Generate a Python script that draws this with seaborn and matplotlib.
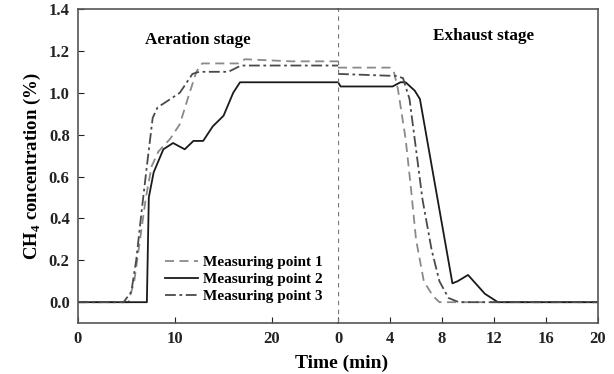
import numpy as np
import pandas as pd
import matplotlib
matplotlib.use('Agg')
import matplotlib.pyplot as plt
import seaborn as sns

# 曝气阶段 (aeration stage) 数据, 时间 min
t_aer_p1 = [0, 5.2, 5.8, 6.4, 7.0, 7.6, 8.3, 9.5, 10.5, 11.3, 12.2, 12.8, 16.5, 17.2, 22.0, 26.8]
c_aer_p1 = [0.0, 0.0, 0.10, 0.30, 0.50, 0.65, 0.72, 0.78, 0.85, 0.97, 1.10, 1.14, 1.14, 1.16, 1.15, 1.15]
t_aer_p2 = [0, 7.1, 7.3, 7.8, 8.8, 9.8, 11.0, 11.9, 12.9, 13.9, 15.0, 16.0, 16.7, 20.0, 26.8]
c_aer_p2 = [0.0, 0.0, 0.50, 0.62, 0.73, 0.76, 0.73, 0.77, 0.77, 0.84, 0.89, 1.00, 1.05, 1.05, 1.05]
t_aer_p3 = [0, 4.7, 5.5, 6.0, 6.6, 7.1, 7.7, 8.2, 9.2, 10.5, 11.8, 12.5, 15.5, 16.8, 22.0, 26.8]
c_aer_p3 = [0.0, 0.0, 0.05, 0.20, 0.45, 0.65, 0.88, 0.93, 0.96, 1.00, 1.09, 1.10, 1.10, 1.13, 1.13, 1.13]

# 排气阶段 (exhaust stage) 数据
t_exh_p1 = [0, 4.0, 4.3, 4.6, 5.2, 5.6, 6.0, 6.6, 7.3, 7.8, 20]
c_exh_p1 = [1.12, 1.12, 1.10, 1.02, 0.78, 0.55, 0.30, 0.10, 0.03, 0.0, 0.0]
t_exh_p2 = [0, 0.2, 4.2, 4.8, 5.2, 5.9, 6.3, 8.8, 9.2, 10.0, 11.3, 12.3, 20]
c_exh_p2 = [1.05, 1.03, 1.03, 1.05, 1.05, 1.01, 0.97, 0.09, 0.10, 0.13, 0.04, 0.0, 0.0]
t_exh_p3 = [0, 4.5, 5.0, 5.5, 6.0, 6.5, 7.2, 7.8, 8.5, 9.3, 20]
c_exh_p3 = [1.09, 1.08, 1.07, 0.97, 0.73, 0.49, 0.25, 0.10, 0.02, 0.0, 0.0]

labels = ['Measuring point 1', 'Measuring point 2', 'Measuring point 3']
colors = ['#8a8a8a', '#1a1a1a', '#4a4a4a']
styles = [(0, (5, 3)), '-', (0, (6, 2, 1.5, 2))]

plt.rcParams['font.family'] = ['Liberation Serif', 'DejaVu Serif']
plt.rcParams['font.weight'] = 'bold'
plt.rcParams['axes.labelweight'] = 'bold'

fig, (ax1, ax2) = plt.subplots(1, 2, figsize=(6.14, 3.74), dpi=100, sharey=True)
fig.subplots_adjust(left=0.127, right=0.974, bottom=0.136, top=0.976, wspace=0)

aer = [(t_aer_p1, c_aer_p1), (t_aer_p2, c_aer_p2), (t_aer_p3, c_aer_p3)]
exh = [(t_exh_p1, c_exh_p1), (t_exh_p2, c_exh_p2), (t_exh_p3, c_exh_p3)]

for i in range(3):
    sns.lineplot(x=aer[i][0], y=aer[i][1], ax=ax1, color=colors[i], linestyle=styles[i],
                 linewidth=1.3, label=labels[i])
    sns.lineplot(x=exh[i][0], y=exh[i][1], ax=ax2, color=colors[i], linestyle=styles[i],
                 linewidth=1.3, legend=False)

ax1.set_xlim(0, 26.8)
ax2.set_xlim(0, 20)
ax1.set_ylim(-0.1, 1.4)
ax1.set_xticks([0, 10, 20])
ax2.set_xticks([0, 4, 8, 12, 16, 20])
ax1.set_yticks(np.arange(0, 1.41, 0.2))
ax1.yaxis.set_major_formatter(matplotlib.ticker.FormatStrFormatter('%.1f'))

for ax in (ax1, ax2):
    ax.tick_params(direction='in', length=4, labelsize=12, colors='#222222', pad=6)
    for s in ax.spines.values():
        s.set_color('#555555')
        s.set_linewidth(1.2)
    for lab in ax.get_xticklabels() + ax.get_yticklabels():
        lab.set_fontweight('bold')
ax1.spines['right'].set_visible(False)
ax2.spines['left'].set_visible(False)
ax2.tick_params(axis='y', left=False)
ax2.axvline(0, color='#777777', linestyle=(0, (2, 2)), linewidth=1.6)

ax1.set_ylabel(r'CH$_\mathregular{4}$ concentration (%)', fontsize=13.5, fontweight='bold', labelpad=4)
ax1.set_xlabel('')
fig.text(0.556, 0.029, 'Time (min)', ha='center', va='center', fontsize=14, fontweight='bold')

ax1.text(0.46, 0.89, 'Aeration stage', transform=ax1.transAxes, ha='center', fontsize=12.3, fontweight='bold')
ax2.text(0.56, 0.90, 'Exhaust stage', transform=ax2.transAxes, ha='center', fontsize=12.3, fontweight='bold')

leg = ax1.legend(loc='lower left', bbox_to_anchor=(0.31, 0.045), frameon=False, fontsize=11,
                 handlelength=2.2, handletextpad=0.3, labelspacing=0.2, borderaxespad=0)
for t in leg.get_texts():
    t.set_fontweight('bold')

plt.savefig('out.png', dpi=100)
